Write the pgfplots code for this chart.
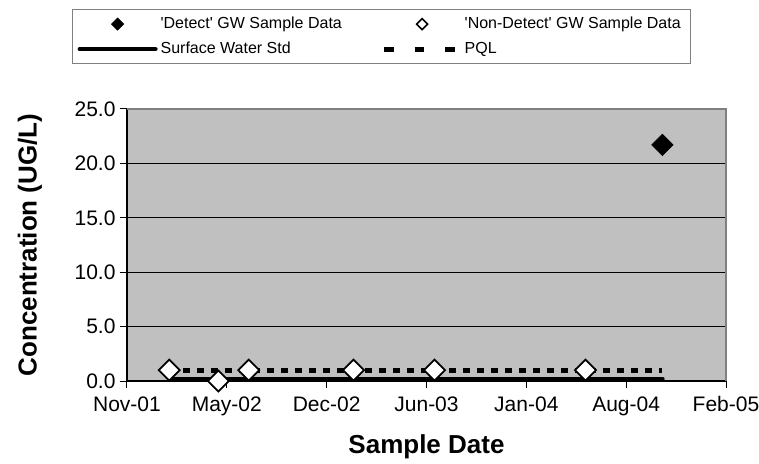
\documentclass[border=0pt]{standalone}
\usepackage{pgfplots}
\pgfplotsset{compat=1.18}
\usepackage{fontspec}
\setmainfont{Liberation Sans}
\definecolor{plotgrey}{RGB}{192,192,192}
\definecolor{bordergrey}{RGB}{128,128,128}
\newcommand{\lgtext}[1]{\makebox[218pt][l]{#1}}

\begin{document}
\begin{tikzpicture}
\path[use as bounding box] (-127pt,-82pt) rectangle (632pt,381pt);
\begin{axis}[
  at={(0pt,0pt)}, anchor=south west,
  scale only axis, width=599pt, height=272pt,
  xmin=0, xmax=1206, ymin=0, ymax=25,
  axis lines=left, axis line style={-, black, line width=1.2pt},
  axis background/.style={fill=plotgrey},
  after end axis/.code={\draw[bordergrey, line width=2pt] (rel axis cs:0,1) -- (rel axis cs:1,1) -- (rel axis cs:1,0);},
  xtick={0,201,402,603,804,1005,1206},
  xticklabels={Nov-01,May-02,Dec-02,Jun-03,Jan-04,Aug-04,Feb-05},
  ytick={0,5,10,15,20,25},
  /pgf/number format/assume math mode=true,
  yticklabel={\pgfmathprintnumber[fixed,fixed zerofill,precision=1]{\tick}},
  tick align=outside, major tick length=7pt,
  tick style={black, line width=1pt},
  ymajorgrids, grid style={black, line width=0.8pt},
  clip=false,
  tick label style={font=\fontsize{21}{24}\selectfont},
  xticklabel style={yshift=-5pt},
  yticklabel style={xshift=-1pt},
  xlabel={Sample Date}, ylabel={Concentration (UG/L)},
  label style={font=\bfseries\fontsize{26}{29}\selectfont},
  xlabel style={at={(axis description cs:0.5,-0.265)}, anchor=base},
  ylabel style={at={(axis description cs:-0.162,0.5)}, anchor=center},
  legend columns=2, legend cell align=left,
  legend style={at={(axis description cs:-0.0918,1.3676)}, anchor=north west,
    draw=bordergrey, line width=1.2pt, fill=white,
    inner xsep=5pt, inner ysep=2pt, column sep=0pt, row sep=0pt,
    nodes={font=\fontsize{16}{18}\selectfont, text=black, text height=11.5pt, text depth=3.5pt,
      inner ysep=5pt, inner xsep=3pt, anchor=west}},
]
% lines first (drawn beneath markers)
\addplot[forget plot, black, line width=4.5pt, line cap=round] coordinates {
  (85,0.2) (184,0.2) (245,0.2) (456,0.2) (619,0.2) (923,0.2) (1078,0.2)};
\addplot[forget plot, black, line width=5pt, dash pattern=on 7pt off 7pt] coordinates {
  (85,1.0) (184,1.0) (245,1.0) (456,1.0) (619,1.0) (923,1.0) (1078,1.0)};
% non-detect samples
\addplot[forget plot, only marks, mark=square*, mark size=7.4pt,
  mark options={rotate=45, fill=white, draw=black, line width=1.8pt}] coordinates {
  (85,1.0) (184,0.0) (245,1.0) (456,1.0) (619,1.0) (923,1.0)};
% detect samples
\addplot[forget plot, only marks, mark=square*, mark size=7.6pt,
  mark options={rotate=45, fill=black, draw=black, line width=0.5pt}] coordinates {
  (1078,21.7)};

\addlegendimage{legend image code/.code={%
  \path (0pt,0pt) (78pt,0pt);
  \draw[black, fill=black, line width=0.6pt, mark=square*, mark size=4.3pt, mark options={rotate=45, fill=black}] plot coordinates {(39pt,0pt)};}}
\addlegendentry{\lgtext{\textquotesingle Detect\textquotesingle{} GW Sample Data}}
\addlegendimage{legend image code/.code={%
  \path (0pt,0pt) (78pt,0pt);
  \draw[black, line width=1.5pt, mark=square*, mark size=3.9pt, mark options={rotate=45, fill=white}] plot coordinates {(39pt,0pt)};}}
\addlegendentry{\lgtext{\textquotesingle Non-Detect\textquotesingle{} GW Sample Data}}
\addlegendimage{legend image code/.code={%
  \path (0pt,0pt) (78pt,0pt);
  \draw[black, line width=4pt, line cap=round] (1pt,0pt) -- (77pt,0pt);}}
\addlegendentry{\lgtext{Surface Water Std}}
\addlegendimage{legend image code/.code={%
  \path (0pt,0pt) (78pt,0pt);
  \draw[black, line width=5pt, dash pattern=on 9.5pt off 21pt] (1pt,0pt) -- (73pt,0pt);}}
\addlegendentry{\lgtext{PQL}}
\end{axis}
\end{tikzpicture}
\end{document}
